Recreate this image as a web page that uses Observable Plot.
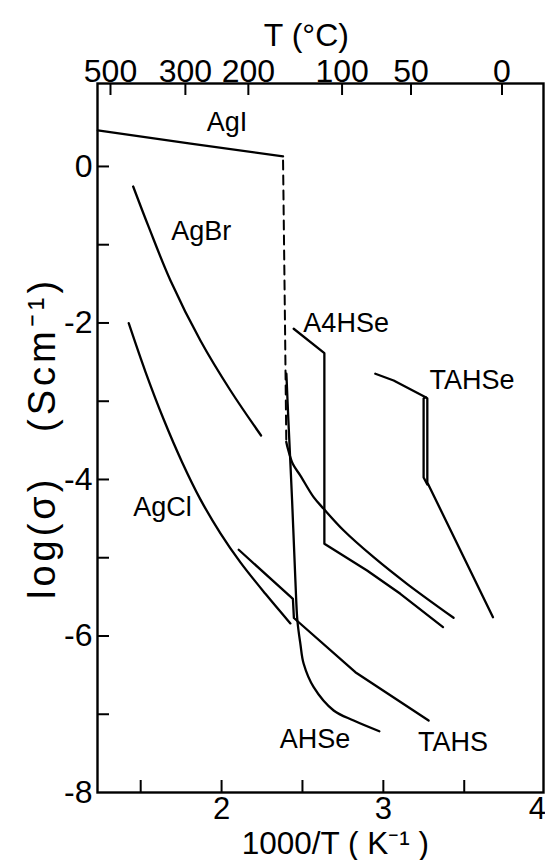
<!DOCTYPE html>
<html><head><meta charset="utf-8">
<script src="https://cdn.jsdelivr.net/npm/d3@7"></script>
<script src="https://cdn.jsdelivr.net/npm/@observablehq/plot@0.6"></script>
<style>html,body{margin:0;padding:0;background:#fff}#chart svg{display:block}</style>
</head><body><div id="chart"></div>
<script>
// ---- data (x = 1000/T in K^-1, y = log sigma) ----
const agI      = [[1.235,0.46],[1.809,0.293],[2.380,0.128]];
const agIDash  = [[2.380,0.077],[2.392,-2.0],[2.400,-3.52]];
const agILow   = [[2.400,-3.52],[2.409,-3.60],[2.440,-3.80],[2.487,-3.95],[2.569,-4.226],[2.631,-4.374],[2.755,-4.652],[2.940,-4.993],[3.146,-5.333],[3.434,-5.767]];
const agBr     = [[1.4535,-0.256],[1.550,-0.776],[1.684,-1.457],[1.869,-2.224],[2.055,-2.863],[2.244,-3.438]];
const agCl     = [[1.426,-2.003],[1.5295,-2.624],[1.643,-3.237],[1.756,-3.779],[1.869,-4.254],[1.993,-4.688],[2.1165,-5.059],[2.271,-5.461],[2.4254,-5.839]];
const a4hse    = [[2.4458,-2.074],[2.6354,-2.386],[2.6354,-4.822],[2.8992,-5.163],[3.105,-5.461],[3.3688,-5.887]];
const tahse    = [[2.9505,-2.649],[3.0636,-2.735],[3.2613,-2.948],[3.2718,-2.965],[3.2718,-4.038],[3.6777,-5.760]];
const tahse2   = [[3.2613,-2.948],[3.2489,-2.965],[3.2489,-3.974],[3.2718,-4.064]];
const tahs     = [[2.106,-4.898],[2.441,-5.527],[2.447,-5.770],[2.8269,-6.463],[3.2798,-7.080]];
const ahse     = [[2.4007,-2.649],[2.413,-3.246],[2.4359,-4.268],[2.4563,-5.291],[2.4686,-5.802],[2.4871,-6.100],[2.5075,-6.355],[2.5693,-6.654],[2.6929,-6.952],[2.8165,-7.080],[2.9752,-7.217]];

const curveNames  = ["AgI","AgBr","A4HSe","TAHSe","AgCl","AHSe","TAHS"];
const curveLabelX = [2.034,1.874,2.770,3.548,1.635,2.577,3.431];
const curveLabelY = [0.562,-0.824,-2.0,-2.735,-4.354,-7.323,-7.357];

const xDomain = [1.233, 3.99];
const yDomain = [-8, 1.06];
const xMinorTicks = [1.5,2,2.5,3,3.5];
const xTickValues = [2,3,4];
const xTickLabels = ["2","3","4"];
const yMinorTicks = [0,-1,-2,-3,-4,-5,-6,-7];
const yTickValues = [0,-2,-4,-6,-8];
const yTickLabels = ["0","-2","-4","-6","-8"];
const topTickValues = [1.3133,1.7763,2.1655,2.7448,3.1711,3.7333];
const topTickLabels = ["500","300","200","100","50","0"];

const xTitle = "1000/T ( K⁻¹ )";
const yTitle = "log(σ)   (Scm⁻¹)";
const topTitle = "T (°C)";
const xTitlePos = 2.703;
const topTitlePos = 2.524;

// ---- build tables ----
const toRows = (id, pts) => pts.map(([x, y]) => ({id, x, y}));
const straight = [...toRows("AgI", agI), ...toRows("A4HSe", a4hse), ...toRows("TAHSe", tahse), ...toRows("TAHSe2", tahse2), ...toRows("TAHS", tahs)];
const smooth = [...toRows("AgILow", agILow), ...toRows("AgBr", agBr), ...toRows("AgCl", agCl), ...toRows("AHSe", ahse)];
const dashed = toRows("AgIDash", agIDash);
const labels = curveNames.map((t, i) => ({t, x: curveLabelX[i], y: curveLabelY[i]}));
const xLabs = xTickValues.map((x, i) => ({x, t: xTickLabels[i]}));
const lastX = xDomain[1];

const fmt = (vals, labs) => { const m = new Map(vals.map((v, i) => [v, labs[i]])); return d => m.get(d); };
const font = "'Liberation Sans', Arial, sans-serif";
const lw = 2.3;

const chart = Plot.plot({
  width: 545, height: 860,
  marginLeft: 97, marginRight: 2, marginTop: 83, marginBottom: 68,
  style: {fontFamily: font, background: "#fff", color: "#000"},
  x: {domain: xDomain},
  y: {domain: yDomain},
  marks: [
    // inward ticks
    Plot.axisY(yMinorTicks, {anchor: "left", tickSize: 12, dx: 12, strokeWidth: 2, fill: "none", label: null}),
    Plot.axisX(xMinorTicks, {anchor: "bottom", tickSize: 12, dy: -12, strokeWidth: 2, fill: "none", label: null}),
    Plot.axisX(topTickValues, {anchor: "top", tickSize: 11, dy: 11, strokeWidth: 2, fill: "none", label: null}),
    // tick labels
    Plot.axisY(yTickValues, {anchor: "left", tickSize: 0, tickPadding: 5, fontSize: 32, tickFormat: fmt(yTickValues, yTickLabels), label: null}),
    Plot.text(xLabs.filter(d => d.x <= lastX), {x: "x", text: "t", frameAnchor: "bottom", dy: 4, lineAnchor: "top", fontSize: 31}),
    Plot.text(xLabs.filter(d => d.x > lastX), {x: "x", text: "t", frameAnchor: "bottom", dy: 4, lineAnchor: "top", textAnchor: "end", dx: 1, fontSize: 31}),
    Plot.axisX(topTickValues, {anchor: "top", tickSize: 0, tickPadding: 2, fontSize: 32, tickFormat: fmt(topTickValues, topTickLabels), label: null}),
    Plot.frame({strokeWidth: 2.4}),
    // curves
    Plot.line(straight, {x: "x", y: "y", z: "id", stroke: "#000", strokeWidth: lw, curve: "linear", strokeLinejoin: "round"}),
    Plot.line(smooth, {x: "x", y: "y", z: "id", stroke: "#000", strokeWidth: lw, curve: "catmull-rom", strokeLinecap: "round"}),
    Plot.line(dashed, {x: "x", y: "y", stroke: "#000", strokeWidth: 2, strokeDasharray: "9,6"}),
    // curve labels
    Plot.text(labels, {x: "x", y: "y", text: "t", fontSize: 27, fill: "#000"}),
    // titles
    Plot.text([{t: topTitle, x: topTitlePos}], {x: "x", text: "t", frameAnchor: "top", dy: -38, lineAnchor: "bottom", fontSize: 32}),
    Plot.text([{t: xTitle, x: xTitlePos}], {x: "x", text: "t", frameAnchor: "bottom", dy: 61, lineAnchor: "bottom", fontSize: 31.5}),
    Plot.text([yTitle], {frameAnchor: "left", dx: -55, rotate: -90, textAnchor: "middle", fontSize: 38})
  ]
});
d3.select(chart).selectAll("text").filter(function() { return this.textContent === yTitle; }).style("letter-spacing", "4px");
document.getElementById("chart").appendChild(chart);
</script>
</body></html>
